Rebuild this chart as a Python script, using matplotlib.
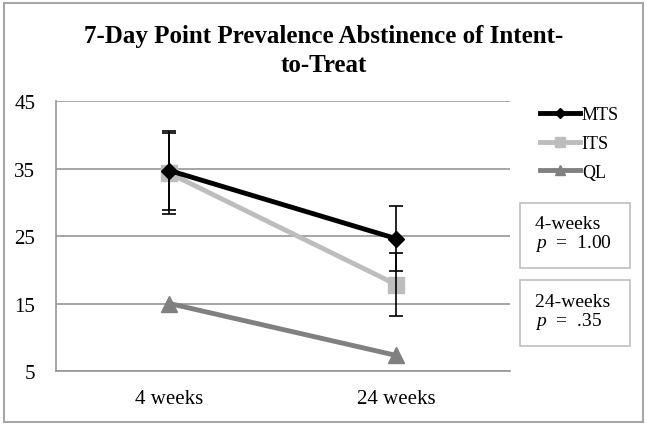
import matplotlib
matplotlib.use("Agg")
import matplotlib.pyplot as plt
from matplotlib.patches import Rectangle

plt.rcParams['font.family'] = ['Liberation Serif', 'DejaVu Serif']
plt.rcParams['mathtext.fontset'] = 'custom'
plt.rcParams['mathtext.it'] = 'Liberation Serif:italic'
plt.rcParams['mathtext.rm'] = 'Liberation Serif'

timepoints = ["4 weeks", "24 weeks"]
mts = [34.7, 24.6]
its = [34.3, 17.8]
ql = [15.0, 7.3]
mts_err = [5.8, 4.8]
its_err = [6.0, 4.7]
y_ticks = [5, 15, 25, 35, 45]

fig = plt.figure(figsize=(6.47, 4.27), dpi=100)
ax = fig.add_axes([0.0866, 0.1288, 0.7014, 0.6323])

x = list(range(len(timepoints)))
ax.plot(x, ql, color="#808080", lw=3.5, marker="^", ms=11, label="QL", zorder=3)
ax.plot(x, its, color="#BDBDBD", lw=3.5, marker="s", ms=11, label="ITS", zorder=4)
ax.plot(x, mts, color="black", lw=3.5, marker="D", ms=8, label="MTS", zorder=5)
ax.errorbar(x, mts, yerr=mts_err, fmt="none", ecolor="black", elinewidth=1.2, capsize=5, capthick=1.2, zorder=6)
ax.errorbar(x, its, yerr=its_err, fmt="none", ecolor="black", elinewidth=1.2, capsize=5, capthick=1.2, zorder=6)

ax.set_xlim(-0.5, 1.5)
ax.set_ylim(5, 45)
ax.set_xticks(x)
ax.set_xticklabels(timepoints, fontsize=15)
ax.set_yticks(y_ticks)
ax.set_yticklabels([str(t) for t in y_ticks], fontsize=15)
ax.tick_params(length=0, pad=13)
ax.tick_params(axis="y", pad=15)
ax.grid(axis="y", color="#969696", lw=1.2)
ax.set_axisbelow(True)
for s in ["top", "right"]:
    ax.spines[s].set_visible(False)
ax.spines["left"].set_color("#969696")
ax.spines["bottom"].set_color("#969696")
ax.spines["left"].set_linewidth(1.2)
ax.spines["bottom"].set_linewidth(1.2)

handles, labels = ax.get_legend_handles_labels()
leg = fig.legend(handles[::-1], labels[::-1], loc="upper left", bbox_to_anchor=(0.81, 0.787),
                 frameon=False, fontsize=13, handlelength=2.2, handletextpad=0.1,
                 labelspacing=0.65, markerscale=0.6)

# title, broken where the original breaks it
fig.text(0.5, 0.8993, "7-Day Point Prevalence Abstinence of Intent-", ha="center", va="baseline",
         fontsize=18, fontweight="bold")
fig.text(0.5, 0.8314, "to-Treat", ha="center", va="baseline", fontsize=18, fontweight="bold")

fig.text(0.827, 0.4485, "4-weeks   \n$p$  =  1.00", ha="left", va="center", fontsize=14,
         linespacing=1.0, bbox=dict(boxstyle="square,pad=0.75", fc="white", ec="#BFBFBF", lw=1.2))
fig.text(0.827, 0.267, "24-weeks \n$p$  =  .35", ha="left", va="center", fontsize=14,
         linespacing=1.0, bbox=dict(boxstyle="square,pad=0.75", fc="white", ec="#BFBFBF", lw=1.2))

fig.patches.append(Rectangle((0.006, 0.009), 0.988, 0.982, transform=fig.transFigure,
                             fill=False, ec="#A6A6A6", lw=1.5))

fig.savefig("out.png", dpi=100)
